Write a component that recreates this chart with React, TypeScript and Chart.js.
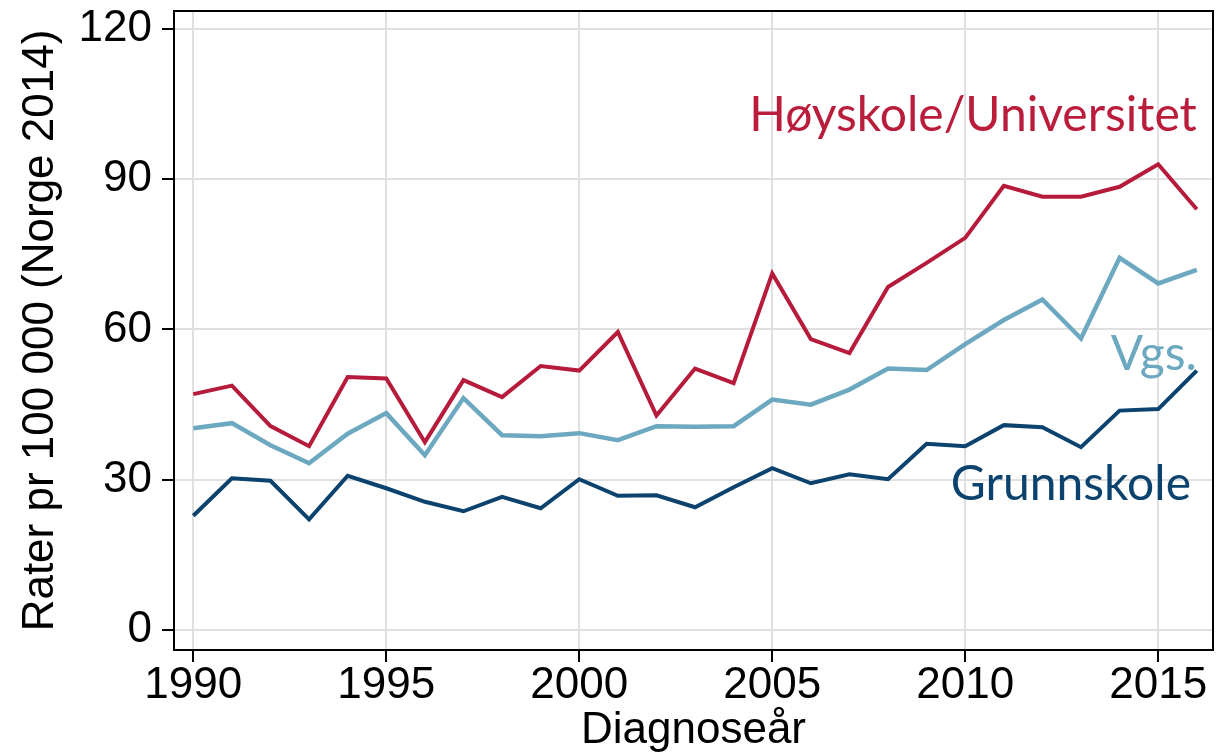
import React, { useEffect, useRef } from "react";
import { Chart, registerables } from "chart.js";

Chart.register(...registerables);

const years = [
  1990, 1991, 1992, 1993, 1994, 1995, 1996, 1997, 1998, 1999, 2000, 2001, 2002, 2003,
  2004, 2005, 2006, 2007, 2008, 2009, 2010, 2011, 2012, 2013, 2014, 2015, 2016,
];

const hoyskole = [
  47.1, 48.8, 40.7, 36.7, 50.5, 50.2, 37.5, 49.9, 46.5, 52.7, 51.8, 59.5, 42.8, 52.2,
  49.3, 71.2, 58.1, 55.3, 68.5, 73.3, 78.3, 88.7, 86.5, 86.5, 88.5, 93.0, 84.0,
];

const vgs = [
  40.3, 41.3, 36.9, 33.3, 39.2, 43.3, 34.9, 46.3, 38.9, 38.7, 39.3, 37.9, 40.7, 40.6,
  40.7, 46.0, 45.0, 48.0, 52.2, 51.9, 57.1, 61.9, 66.0, 58.2, 74.3, 69.2, 71.9,
];

const grunnskole = [
  22.8, 30.3, 29.8, 22.1, 30.8, 28.3, 25.6, 23.7, 26.6, 24.3, 30.1, 26.8, 26.9, 24.5,
  28.5, 32.3, 29.3, 31.1, 30.1, 37.2, 36.7, 40.9, 40.5, 36.5, 43.8, 44.1, 51.8,
];

const xTicks = [1990, 1995, 2000, 2005, 2010, 2015];
const yTicks = [0, 30, 60, 90, 120];

const seriesNames = ["Høyskole/Universitet", "Vgs.", "Grunnskole"];
const seriesColors = ["#B61B3B", "#6CA8BF", "#0B436E"];

const labelTexts = ["Høyskole/Universitet", "Vgs.", "Grunnskole"];
const labelX = [2016, 2016, 2015.85];
const labelY = [99.6, 52, 26];
const labelColors = ["#BA1C3C", "#6CA8BF", "#0B436E"];

const FONT = "'Liberation Sans', Arial, sans-serif";

export default function App() {
  const ref = useRef<HTMLCanvasElement | null>(null);

  useEffect(() => {
    document.body.style.margin = "0";
    const canvas = ref.current;
    if (!canvas) return;

    const framePlugin = {
      id: "frameAndLabels",
      afterDatasetsDraw(chart: any) {
        const { ctx, chartArea, scales } = chart;
        ctx.save();
        ctx.strokeStyle = "#000";
        ctx.lineWidth = 2;
        ctx.beginPath();
        ctx.moveTo(chartArea.left, chartArea.top);
        ctx.lineTo(chartArea.right, chartArea.top);
        ctx.lineTo(chartArea.right, chartArea.bottom);
        ctx.stroke();

        ctx.font = "48px Lato, 'Open Sans', sans-serif";
        ctx.textAlign = "right";
        ctx.textBaseline = "alphabetic";
        for (let i = 0; i < labelTexts.length; i++) {
          ctx.fillStyle = labelColors[i];
          ctx.fillText(
            labelTexts[i],
            scales.x.getPixelForValue(labelX[i]),
            scales.y.getPixelForValue(labelY[i])
          );
        }
        ctx.restore();
      },
    };

    const mk = (data: number[]) => years.map((y, i) => ({ x: y, y: data[i] }));

    const chart = new Chart(canvas, {
      type: "line",
      data: {
        datasets: [
          { label: seriesNames[0], data: mk(hoyskole), borderColor: seriesColors[0], borderWidth: 4 },
          { label: seriesNames[1], data: mk(vgs), borderColor: seriesColors[1], borderWidth: 4.5 },
          { label: seriesNames[2], data: mk(grunnskole), borderColor: seriesColors[2], borderWidth: 4 },
        ],
      },
      options: {
        responsive: false,
        animation: false,
        layout: { padding: { top: 11, right: 3, left: 0, bottom: 0 } },
        elements: { point: { radius: 0 }, line: { tension: 0 } },
        plugins: { legend: { display: false }, tooltip: { enabled: false } },
        scales: {
          x: {
            type: "linear",
            min: 1989.5,
            max: 2016.42,
            afterBuildTicks: (s: any) => {
              s.ticks = xTicks.map((v) => ({ value: v }));
            },
            afterFit: (s: any) => {
              s.height = 103;
              s.paddingLeft = 0;
              s.paddingRight = 0;
            },
            ticks: {
              font: { size: 44, family: FONT },
              color: "#000",
              padding: -3,
              maxRotation: 0,
              autoSkip: false,
              callback: (v: any) => String(v),
            },
            grid: {
              color: "#E0E0E0",
              lineWidth: 2,
              tickColor: "#000",
              tickWidth: 2,
              tickLength: 12,
            },
            border: { display: true, color: "#000", width: 2 },
            title: {
              display: true,
              text: "Diagnoseår",
              color: "#000",
              font: { size: 44, family: FONT, lineHeight: 1 },
              padding: { top: 0, bottom: 0 },
            },
          },
          y: {
            type: "linear",
            min: -4,
            max: 123.6,
            afterBuildTicks: (s: any) => {
              s.ticks = yTicks.map((v) => ({ value: v }));
            },
            afterFit: (s: any) => {
              s.width = 174;
              s.paddingTop = 0;
              s.paddingBottom = 0;
            },
            ticks: {
              font: { size: 44, family: FONT },
              color: "#000",
              padding: 10,
              callback: (v: any) => String(v),
            },
            grid: {
              color: "#E0E0E0",
              lineWidth: 2,
              tickColor: "#000",
              tickWidth: 2,
              tickLength: 12,
            },
            border: { display: true, color: "#000", width: 2 },
            title: {
              display: true,
              text: "Rater pr 100 000 (Norge 2014)",
              color: "#000",
              font: { size: 44, family: FONT, lineHeight: 1 },
              padding: { top: 19, bottom: 0 },
            },
          },
        },
      },
      plugins: [framePlugin],
    });

    return () => chart.destroy();
  }, []);

  return <canvas ref={ref} width={1216} height={753} style={{ display: "block" }} />;
}
